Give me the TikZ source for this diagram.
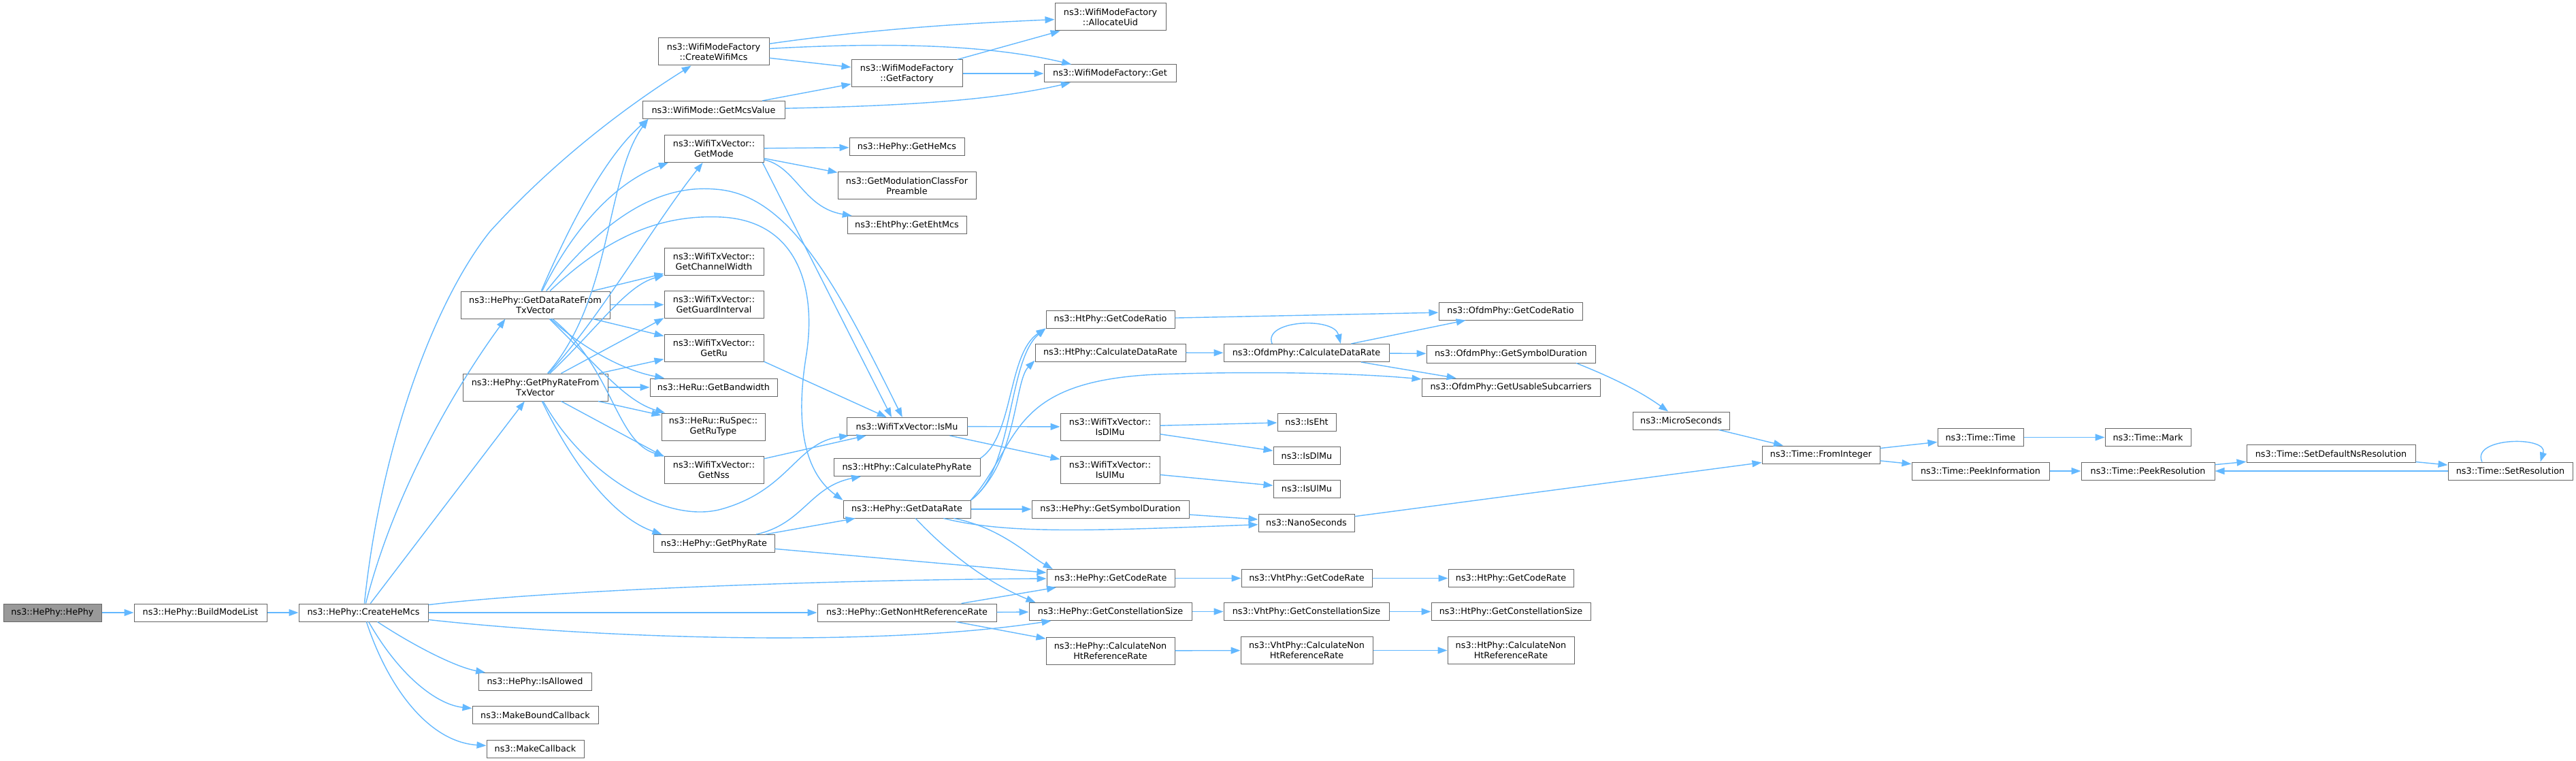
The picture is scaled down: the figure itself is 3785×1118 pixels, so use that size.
\documentclass[tikz,border=0pt]{standalone}
\usepackage{fontspec}
\setmainfont{DejaVu Sans}
\usetikzlibrary{arrows.meta}
\definecolor{edgeblue}{HTML}{63B8FF}
\definecolor{boxline}{HTML}{666666}
\definecolor{rootfill}{HTML}{999999}

\begin{document}
\begin{tikzpicture}[x=0.5pt,y=-0.5pt,
  fn/.style={draw=boxline,fill=white,line width=0.5pt,inner sep=0pt,minimum height=13pt,align=center,font=\fontsize{6.4pt}{7.5pt}\selectfont},
  fn2/.style={fn,minimum height=20pt},
  call/.style={draw=edgeblue,line width=0.7pt,-{Triangle[length=7pt,width=5pt]}}]
\useasboundingbox (0,0) rectangle (3785,1118);

% to write the functions, column by column
\node [fn,fill=rootfill,minimum width=72pt] (hephy) at (77,900) {ns3::HePhy::HePhy};
\node [fn,minimum width=97.5pt] (buildlist) at (294.5,900) {ns3::HePhy::BuildModeList};
\node [fn,minimum width=95pt] (createhemcs) at (534,900) {ns3::HePhy::CreateHeMcs};

\node [fn2,minimum width=109.5pt] (gdrtv) at (786.5,448) {ns3::HePhy::GetDataRateFrom\\TxVector};
\node [fn2,minimum width=106.5pt] (gprtv) at (786.5,569) {ns3::HePhy::GetPhyRateFrom\\TxVector};
\node [fn,minimum width=83pt] (isallowed) at (786,1001.5) {ns3::HePhy::IsAllowed};
\node [fn,minimum width=92.5pt] (mkbound) at (786.5,1050.5) {ns3::MakeBoundCallback};
\node [fn,minimum width=71.5pt] (mkcb) at (786.5,1100) {ns3::MakeCallback};

\node [fn2,minimum width=81.5pt] (createwifi) at (1048.5,76) {ns3::WifiModeFactory\\::CreateWifiMcs};
\node [fn,minimum width=104.5pt] (mcsvalue) at (1048.5,161.5) {ns3::WifiMode::GetMcsValue};
\node [fn2,minimum width=73pt] (getmode) at (1049,218.5) {ns3::WifiTxVector::\\GetMode};
\node [fn2,minimum width=73pt] (chwidth) at (1049,384) {ns3::WifiTxVector::\\GetChannelWidth};
\node [fn2,minimum width=73pt] (guard) at (1049,447.5) {ns3::WifiTxVector::\\GetGuardInterval};
\node [fn2,minimum width=73pt] (getru) at (1049,511.5) {ns3::WifiTxVector::\\GetRu};
\node [fn,minimum width=93.5pt] (bandwidth) at (1048.5,569) {ns3::HeRu::GetBandwidth};
\node [fn2,minimum width=76pt] (rutype) at (1048,627) {ns3::HeRu::RuSpec::\\GetRuType};
\node [fn2,minimum width=73pt] (getnss) at (1049,690.5) {ns3::WifiTxVector::\\GetNss};
\node [fn,minimum width=89pt] (getphyrate) at (1049,798.5) {ns3::HePhy::GetPhyRate};

\node [fn2,minimum width=81.5pt] (getfactory) at (1332.5,108) {ns3::WifiModeFactory\\::GetFactory};
\node [fn,minimum width=84.5pt] (gethemcs) at (1332.5,216) {ns3::HePhy::GetHeMcs};
\node [fn2,minimum width=101.5pt] (modclass) at (1332.5,273) {ns3::GetModulationClassFor\\Preamble};
\node [fn,minimum width=87.5pt] (ehtmcs) at (1332.5,330.5) {ns3::EhtPhy::GetEhtMcs};
\node [fn,minimum width=88.5pt] (ismu) at (1332.5,626.5) {ns3::WifiTxVector::IsMu};
\node [fn,minimum width=107.5pt] (calcphyrate) at (1332.5,686.5) {ns3::HtPhy::CalculatePhyRate};
\node [fn,minimum width=93.5pt] (getdatarate) at (1332.5,748) {ns3::HePhy::GetDataRate};
\node [fn,minimum width=131.5pt] (nonhtref) at (1332.5,900) {ns3::HePhy::GetNonHtReferenceRate};

\node [fn2,minimum width=81.5pt] (allocuid) at (1631.5,25) {ns3::WifiModeFactory\\::AllocateUid};
\node [fn,minimum width=97pt] (mfget) at (1631,108) {ns3::WifiModeFactory::Get};
\node [fn,minimum width=94.5pt] (htcoderatio) at (1631.5,469) {ns3::HtPhy::GetCodeRatio};
\node [fn,minimum width=110.5pt] (htcalcdr) at (1631.5,518) {ns3::HtPhy::CalculateDataRate};
\node [fn2,minimum width=73pt] (isdlmutx) at (1631,627) {ns3::WifiTxVector::\\IsDlMu};
\node [fn2,minimum width=73pt] (isulmutx) at (1631,690.5) {ns3::WifiTxVector::\\IsUlMu};
\node [fn,minimum width=115.5pt] (hesymdur) at (1631.5,748) {ns3::HePhy::GetSymbolDuration};
\node [fn,minimum width=94pt] (hecoderate) at (1632,849.5) {ns3::HePhy::GetCodeRate};
\node [fn,minimum width=119.5pt] (heconst) at (1631.5,898.5) {ns3::HePhy::GetConstellationSize};
\node [fn2,minimum width=94.5pt] (hecalcnon) at (1631.5,956) {ns3::HePhy::CalculateNon\\HtReferenceRate};

\node [fn,minimum width=121.5pt] (ofdmcalcdr) at (1919.5,518.5) {ns3::OfdmPhy::CalculateDataRate};
\node [fn,minimum width=43pt] (iseht) at (1920,620) {ns3::IsEht};
\node [fn,minimum width=49pt] (isdlmu) at (1920,669.5) {ns3::IsDlMu};
\node [fn,minimum width=49pt] (isulmu) at (1920,718) {ns3::IsUlMu};
\node [fn,minimum width=70.5pt] (nanosec) at (1919.5,768) {ns3::NanoSeconds};
\node [fn,minimum width=96pt] (vhtcoderate) at (1920,849.5) {ns3::VhtPhy::GetCodeRate};
\node [fn,minimum width=121.5pt] (vhtconst) at (1919.5,898.5) {ns3::VhtPhy::GetConstellationSize};
\node [fn2,minimum width=97pt] (vhtcalcnon) at (1920,955.5) {ns3::VhtPhy::CalculateNon\\HtReferenceRate};

\node [fn,minimum width=105.5pt] (ofdmcoderatio) at (2219.5,457) {ns3::OfdmPhy::GetCodeRatio};
\node [fn,minimum width=124pt] (ofdmsymdur) at (2220,520) {ns3::OfdmPhy::GetSymbolDuration};
\node [fn,minimum width=131pt] (usable) at (2220,569) {ns3::OfdmPhy::GetUsableSubcarriers};
\node [fn,minimum width=92pt] (htcoderate) at (2220,849.5) {ns3::HtPhy::GetCodeRate};
\node [fn,minimum width=117pt] (htconst) at (2220,898.5) {ns3::HtPhy::GetConstellationSize};
\node [fn2,minimum width=93pt] (htcalcnon) at (2220,955.5) {ns3::HtPhy::CalculateNon\\HtReferenceRate};

\node [fn,minimum width=71pt] (microsec) at (2470,618) {ns3::MicroSeconds};
\node [fn,minimum width=86.5pt] (frominteger) at (2675.5,668) {ns3::Time::FromInteger};
\node [fn,minimum width=63pt] (timetime) at (2910,642.5) {ns3::Time::Time};
\node [fn,minimum width=101pt] (peekinfo) at (2910,692) {ns3::Time::PeekInformation};
\node [fn,minimum width=63pt] (timemark) at (3156,642.5) {ns3::Time::Mark};
\node [fn,minimum width=98pt] (peekres) at (3156,692) {ns3::Time::PeekResolution};
\node [fn,minimum width=124pt] (setdefns) at (3425,666.5) {ns3::Time::SetDefaultNsResolution};
\node [fn,minimum width=91.5pt] (setres) at (3688.5,692) {ns3::Time::SetResolution};

% to draw the calls of the first three
\draw [call] (hephy) -- (buildlist);
\draw [call] (buildlist) -- (createhemcs);
\draw [call] (createhemcs) .. controls (560,650) and (640,440) .. (720,340) .. controls (820,230) and (930,150) .. (createwifi);
\draw [call] (createhemcs) .. controls (585,700) and (690,540) .. (gdrtv.205);
\draw [call] (createhemcs) -- (gprtv);
\draw [call] (createhemcs) .. controls (800,868) and (1200,852) .. (hecoderate);
\draw [call] (createhemcs) -- (nonhtref);
\draw [call] (createhemcs) .. controls (900,940) and (1300,950) .. (heconst);
\draw [call] (createhemcs) .. controls (610,950) and (670,980) .. (isallowed);
\draw [call] (createhemcs) .. controls (585,990) and (640,1035) .. (mkbound);
\draw [call] (createhemcs) .. controls (570,1010) and (630,1090) .. (mkcb);

% to draw the calls of GetDataRateFromTxVector
\draw [call] (gdrtv) .. controls (850,300) and (900,220) .. (mcsvalue.188);
\draw [call] (gdrtv) .. controls (840,340) and (900,270) .. (getmode.197);
\draw [call] (gdrtv) .. controls (880,330) and (960,270) .. (1051,278) .. controls (1160,285) and (1230,420) .. (ismu);
\draw [call] (gdrtv) .. controls (900,340) and (980,315) .. (1061,319) .. controls (1170,325) and (1200,420) .. (1185,520) .. controls (1165,640) and (1190,700) .. (getdatarate.172);
\draw [call] (gdrtv) -- (chwidth);
\draw [call] (gdrtv) -- (guard);
\draw [call] (gdrtv) -- (getru);
\draw [call] (gdrtv) .. controls (860,515) and (920,545) .. (bandwidth);
\draw [call] (gdrtv) .. controls (880,540) and (920,590) .. (rutype);
\draw [call] (gdrtv) .. controls (900,540) and (905,650) .. (getnss);

% to draw the calls of GetPhyRateFromTxVector
\draw [call] (gprtv) .. controls (900,440) and (890,260) .. (mcsvalue.188);
\draw [call] (gprtv) .. controls (880,470) and (960,330) .. (getmode);
\draw [call] (gprtv) .. controls (880,480) and (920,420) .. (chwidth);
\draw [call] (gprtv) -- (guard.195);
\draw [call] (gprtv) -- (getru);
\draw [call] (gprtv) -- (bandwidth);
\draw [call] (gprtv) -- (rutype);
\draw [call] (gprtv) -- (getnss.165);
\draw [call] (gprtv) .. controls (860,700) and (980,770) .. (1060,748) .. controls (1160,720) and (1170,650) .. (ismu.189);
\draw [call] (gprtv) .. controls (840,680) and (900,760) .. (getphyrate.170);

% to draw the calls of the WifiMode side
\draw [call] (createwifi) .. controls (1300,40) and (1450,33) .. (allocuid);
\draw [call] (createwifi) .. controls (1300,62) and (1450,65) .. (mfget);
\draw [call] (createwifi) -- (getfactory);
\draw [call] (getfactory) -- (allocuid);
\draw [call] (getfactory) -- (mfget);
\draw [call] (mcsvalue) -- (getfactory);
\draw [call] (mcsvalue) .. controls (1300,156) and (1450,150) .. (mfget);
\draw [call] (getmode) -- (gethemcs);
\draw [call] (getmode) -- (modclass);
\draw [call] (getmode) .. controls (1170,245) and (1180,305) .. (ehtmcs);
\draw [call] (getmode.-16) -- (ismu.149);
\draw [call] (getru.-15) -- (ismu);
\draw [call] (getnss) -- (ismu);
\draw [call] (ismu) -- (isdlmutx);
\draw [call] (ismu) -- (isulmutx);
\draw [call] (isdlmutx) -- (iseht);
\draw [call] (isdlmutx) -- (isdlmu);
\draw [call] (isulmutx) -- (isulmu);

% to draw the calls of the rates
\draw [call] (getphyrate) .. controls (1180,770) and (1190,715) .. (calcphyrate);
\draw [call] (getphyrate) -- (getdatarate);
\draw [call] (getphyrate) -- (hecoderate);
\draw [call] (calcphyrate.7) .. controls (1490,640) and (1480,520) .. (htcoderatio.188);
\draw [call] (getdatarate.8) .. controls (1490,690) and (1480,530) .. (htcoderatio.188);
\draw [call] (getdatarate.8) .. controls (1495,680) and (1490,560) .. (htcalcdr.186);
\draw [call] (getdatarate.8) .. controls (1500,650) and (1480,560) .. (1700,550) .. controls (1850,545) and (1990,548) .. (usable);
\draw [call] (getdatarate) -- (hesymdur);
\draw [call] (getdatarate) .. controls (1480,785) and (1600,780) .. (nanosec);
\draw [call] (getdatarate) .. controls (1470,775) and (1510,815) .. (hecoderate.171);
\draw [call] (getdatarate) .. controls (1400,820) and (1460,860) .. (heconst.173);
\draw [call] (hesymdur) -- (nanosec);
\draw [call] (nonhtref) -- (hecoderate);
\draw [call] (nonhtref) -- (heconst);
\draw [call] (nonhtref) -- (hecalcnon);
\draw [call] (hecoderate) -- (vhtcoderate);
\draw [call] (vhtcoderate) -- (htcoderate);
\draw [call] (heconst) -- (vhtconst);
\draw [call] (vhtconst) -- (htconst);
\draw [call] (hecalcnon) -- (vhtcalcnon);
\draw [call] (vhtcalcnon) -- (htcalcnon);

% to draw the calls of OfdmPhy
\draw [call] (htcoderatio) -- (ofdmcoderatio);
\draw [call] (htcalcdr) -- (ofdmcalcdr);
\draw [call] (ofdmcalcdr.165) .. controls (1855,470) and (1960,465) .. (ofdmcalcdr.15);
\draw [call] (ofdmcalcdr) -- (ofdmcoderatio);
\draw [call] (ofdmcalcdr) -- (ofdmsymdur);
\draw [call] (ofdmcalcdr) -- (usable);
\draw [call] (ofdmsymdur.-8) .. controls (2370,555) and (2410,575) .. (microsec);

% to draw the calls of Time
\draw [call] (microsec) -- (frominteger);
\draw [call] (nanosec) -- (frominteger);
\draw [call] (frominteger) -- (timetime);
\draw [call] (frominteger) -- (peekinfo);
\draw [call] (timetime) -- (timemark);
\draw [call] (peekinfo) -- (peekres);
\draw [call] (peekres) -- (setdefns);
\draw [call] (setdefns) -- (setres);
\draw [call] (setres) -- (peekres);
\draw [call] (setres.162) .. controls (3630,642) and (3745,640) .. (setres.17);
\end{tikzpicture}
\end{document}
